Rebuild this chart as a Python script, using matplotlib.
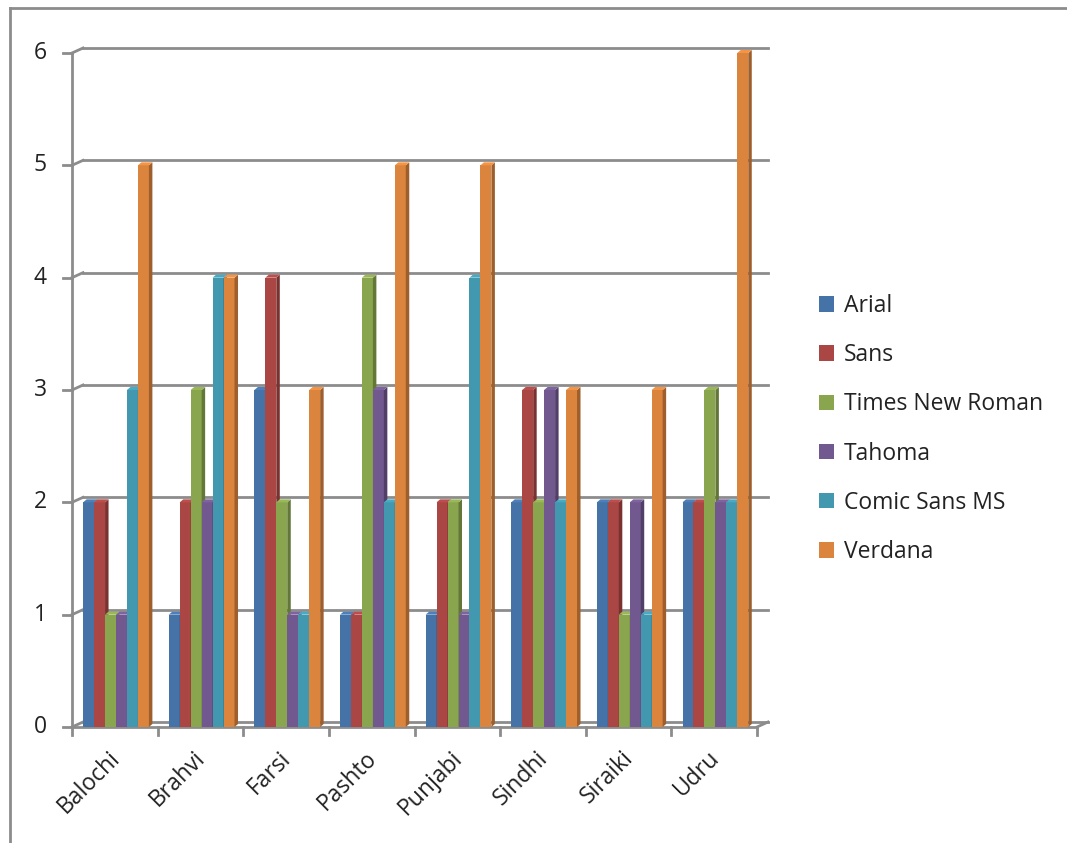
import matplotlib.pyplot as plt
from matplotlib.patches import Polygon, Rectangle
from matplotlib.lines import Line2D
import matplotlib.colors as mcolors

languages = ["Balochi", "Brahvi", "Farsi", "Pashto", "Punjabi", "Sindhi", "Siraiki", "Udru"]
fonts = ["Arial", "Sans", "Times New Roman", "Tahoma", "Comic Sans MS", "Verdana"]

arial = [2, 1, 3, 1, 1, 2, 2, 2]
sans = [2, 2, 4, 1, 2, 3, 2, 2]
times_new_roman = [1, 3, 2, 4, 2, 2, 1, 3]
tahoma = [1, 2, 1, 3, 1, 3, 2, 2]
comic_sans = [3, 4, 1, 2, 4, 2, 1, 2]
verdana = [5, 4, 3, 5, 5, 3, 3, 6]

series = [arial, sans, times_new_roman, tahoma, comic_sans, verdana]
colors = ["#4572A7", "#AA4643", "#89A54E", "#71588F", "#4198AF", "#DB843D"]
yticks = [0, 1, 2, 3, 4, 5, 6]

plt.rcParams["font.family"] = ["Open Sans", "DejaVu Sans"]
fs = 16.5

W, H = 1067, 843
fig = plt.figure(figsize=(W / 100, H / 100), dpi=100)

# outer chart border (only top and left visible)
fig.add_artist(Line2D([10 / W, 1], [1 - 8 / H, 1 - 8 / H], color="#8c8c8c", lw=2))
fig.add_artist(Line2D([10 / W, 10 / W], [0, 1 - 8 / H], color="#8c8c8c", lw=2))

x0, x1 = 72, 757
y0, y1 = 727, 53
ax = fig.add_axes([x0 / W, 1 - y0 / H, (x1 - x0) / W, (y0 - y1) / H])
ax.set_xlim(0, len(languages))
ax.set_ylim(0, 6)
ax.axis("off")

# depth of the back wall in data units
dx = 11 / ((x1 - x0) / len(languages))
dy = 5 / ((y0 - y1) / 6)
grid = "#8c8c8c"

for t in yticks:
    ax.plot([dx, len(languages) + dx], [t + dy, t + dy], color=grid, lw=2,
            clip_on=False, zorder=1)
    ax.plot([0, dx], [t, t + dy], color=grid, lw=2, clip_on=False, zorder=1)
    ax.plot([-0.1, 0], [t, t], color=grid, lw=2, clip_on=False, zorder=1)
    ax.text(-0.37, t, str(t), ha="center", va="center", fontsize=fs, color="#222222")

ax.plot([0, 0], [0, 6], color=grid, lw=2, clip_on=False, zorder=1)
ax.plot([0, len(languages)], [0, 0], color=grid, lw=2, clip_on=False, zorder=1)
ax.plot([len(languages), len(languages) + dx], [0, dy], color=grid, lw=2,
        clip_on=False, zorder=1)
for i in range(len(languages) + 1):
    ax.plot([i, i], [0, -0.07], color=grid, lw=2, clip_on=False, zorder=1)

# bars with a small 3D side and top
bw = 0.128
bdx = 3.5 / ((x1 - x0) / len(languages))
bdy = 3.0 / ((y0 - y1) / 6)
shift = 0.13
for k, (vals, col) in enumerate(zip(series, colors)):
    rgb = mcolors.to_rgb(col)
    dark = tuple(c * 0.72 for c in rgb)
    light = tuple(min(1, c * 1.12) for c in rgb)
    for i, v in enumerate(vals):
        left = i + shift + k * bw
        z = 2 + i * 10 + k
        ax.add_patch(Rectangle((left, 0), bw, v, facecolor=col, edgecolor="none",
                               zorder=z, clip_on=False))
        ax.add_patch(Polygon([(left + bw, 0), (left + bw + bdx, bdy),
                              (left + bw + bdx, v + bdy), (left + bw, v)],
                             facecolor=dark, edgecolor="none", zorder=z,
                             clip_on=False))
        ax.add_patch(Polygon([(left, v), (left + bdx, v + bdy),
                              (left + bw + bdx, v + bdy), (left + bw, v)],
                             facecolor=light, edgecolor="none", zorder=z,
                             clip_on=False))

for i, name in enumerate(languages):
    ax.text(i + 0.42, -0.17, name, rotation=45, ha="right", va="top",
            rotation_mode="anchor", fontsize=fs, color="#222222")

handles = [Rectangle((0, 0), 1, 1, facecolor=c) for c in colors]
fig.legend(handles, fonts, loc="center left", bbox_to_anchor=(798 / W, 1 - 429 / H),
           frameon=False, fontsize=fs, handlelength=0.65, handleheight=0.65,
           handletextpad=0.45, labelspacing=1.1, labelcolor="#222222")

fig.savefig("out.png", dpi=100)
